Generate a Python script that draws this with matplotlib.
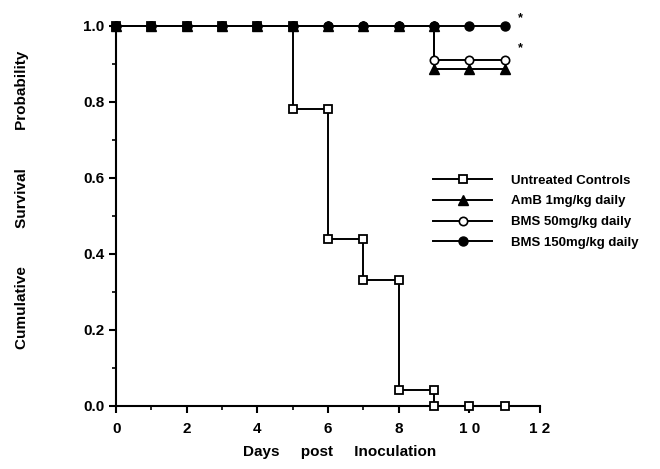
import matplotlib
matplotlib.use("Agg")
import matplotlib.pyplot as plt

plt.rcParams['font.family'] = ['Liberation Sans', 'DejaVu Sans']
plt.rcParams['font.weight'] = 'bold'

# step curves, a point before and after each drop
ctrl_days = [0, 1, 2, 3, 4, 5, 5, 6, 6, 7, 7, 8, 8, 9, 9, 10, 11]
ctrl_surv = [1.0, 1.0, 1.0, 1.0, 1.0, 1.0, 0.78, 0.78, 0.44, 0.44, 0.33, 0.33, 0.04, 0.04, 0.0, 0.0, 0.0]

amb_days = [0, 1, 2, 3, 4, 5, 6, 7, 8, 9, 9, 10, 11]
amb_surv = [1.0, 1.0, 1.0, 1.0, 1.0, 1.0, 1.0, 1.0, 1.0, 1.0, 0.885, 0.885, 0.885]

bms50_days = [0, 1, 2, 3, 4, 5, 6, 7, 8, 9, 9, 10, 11]
bms50_surv = [1.0, 1.0, 1.0, 1.0, 1.0, 1.0, 1.0, 1.0, 1.0, 1.0, 0.91, 0.91, 0.91]

bms150_days = [0, 1, 2, 3, 4, 5, 6, 7, 8, 9, 10, 11]
bms150_surv = [1.0] * 12

labels = ['Untreated Controls', 'AmB 1mg/kg daily', 'BMS 50mg/kg daily', 'BMS 150mg/kg daily']

fig = plt.figure(figsize=(6.6, 4.69), dpi=100)
ax = fig.add_axes([0.176, 0.135, 0.642, 0.81])

kw = dict(color='black', lw=1.4, clip_on=False, zorder=3)
ax.plot(ctrl_days, ctrl_surv, marker='s', ms=6, mfc='white', mec='black', mew=1.3, label=labels[0], **kw)
ax.plot(amb_days, amb_surv, marker='^', ms=6.5, mfc='black', mec='black', label=labels[1], **kw)
ax.plot(bms50_days, bms50_surv, marker='o', ms=6, mfc='white', mec='black', mew=1.2, label=labels[2], **kw)
ax.plot(bms150_days, bms150_surv, marker='o', ms=6.5, mfc='black', mec='black', label=labels[3], **kw)

ax.text(11.45, 1.02, '*', fontsize=9, ha='center', va='center')
ax.text(11.45, 0.94, '*', fontsize=9, ha='center', va='center')

ax.set_xlim(0, 12)
ax.set_ylim(0, 1.0)
ax.set_xticks([0, 2, 4, 6, 8, 10, 12])
ax.set_xticklabels(['0', '2', '4', '6', '8', '1 0', '1 2'])
ax.set_xticks([1, 3, 5, 7, 9, 11], minor=True)
ax.set_yticks([0.0, 0.2, 0.4, 0.6, 0.8, 1.0])
ax.set_yticklabels(['0.0', '0.2', '0.4', '0.6', '0.8', '1.0'])
ax.set_yticks([0.1, 0.3, 0.5, 0.7, 0.9], minor=True)

for s in ['top', 'right']:
    ax.spines[s].set_visible(False)
for s in ['left', 'bottom']:
    ax.spines[s].set_linewidth(1.5)
ax.tick_params(which='major', direction='out', length=5, width=1.5, labelsize=11)
ax.tick_params(axis='x', which='major', pad=7)
ax.tick_params(which='minor', direction='out', length=3, width=1.2)

fig.text(340 / 660, 1 - 452 / 469, 'Days     post     Inoculation', fontsize=11,
         fontweight='bold', ha='center', va='center')
fig.text(22 / 660, 1 - 200 / 469, 'Cumulative         Survival         Probability', fontsize=11,
         fontweight='bold', ha='center', va='center', rotation=90)

leg = ax.legend(loc='upper left', bbox_to_anchor=(0.72, 0.64), frameon=False,
                fontsize=9.5, handlelength=4.5, labelspacing=0.65, handletextpad=1.4)

fig.savefig('out.png', dpi=100)
